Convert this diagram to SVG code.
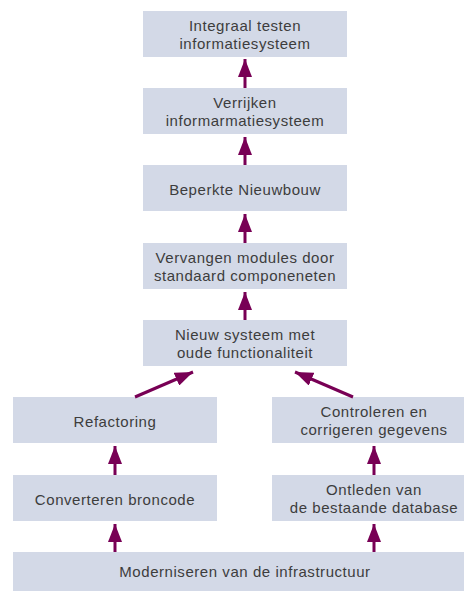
<svg xmlns="http://www.w3.org/2000/svg" width="465" height="591" viewBox="0 0 465 591">
<defs>
<style>
.box{fill:#d3d9e7}
.t{font-family:"Liberation Sans",Arial,sans-serif;font-size:15px;letter-spacing:0.55px;fill:#3d3d3d;text-anchor:middle}
.c{stroke:#780055;stroke-width:3;fill:none}
</style>
<marker id="ah" viewBox="0 0 18 14" refX="18" refY="7" markerWidth="18" markerHeight="14" markerUnits="userSpaceOnUse" orient="auto">
<path d="M0,0 L18,7 L0,14 Z" fill="#780055"/>
</marker>
</defs>
<rect width="465" height="591" fill="#ffffff"/>
<g id="n1"><rect class="box" x="143" y="11" width="204" height="46"/><text class="t" x="245" y="31">Integraal testen</text><text class="t" x="245" y="49">informatiesysteem</text></g>
<g id="n2"><rect class="box" x="143" y="88" width="204" height="46"/><text class="t" x="245" y="108">Verrijken</text><text class="t" x="245" y="126">informarmatiesysteem</text></g>
<g id="n3"><rect class="box" x="143" y="165" width="204" height="46"/><text class="t" x="245" y="195">Beperkte Nieuwbouw</text></g>
<g id="n4"><rect class="box" x="143" y="243" width="204" height="46"/><text class="t" x="245" y="263">Vervangen modules door</text><text class="t" x="245" y="281">standaard componeneten</text></g>
<g id="n5"><rect class="box" x="143" y="320" width="204" height="46"/><text class="t" x="245" y="340">Nieuw systeem met</text><text class="t" x="245" y="358">oude functionaliteit</text></g>
<g id="n6"><rect class="box" x="13" y="397" width="204" height="46"/><text class="t" x="115" y="427">Refactoring</text></g>
<g id="n7"><rect class="box" x="272" y="397" width="192" height="46"/><text class="t" x="374" y="417">Controleren en</text><text class="t" x="374" y="435">corrigeren gegevens</text></g>
<g id="n8"><rect class="box" x="13" y="475" width="204" height="46"/><text class="t" x="115" y="505">Converteren broncode</text></g>
<g id="n9"><rect class="box" x="272" y="475" width="192" height="46"/><text class="t" x="374" y="495">Ontleden van</text><text class="t" x="374" y="513">de bestaande database</text></g>
<g id="n10"><rect class="box" x="13" y="552" width="451" height="39"/><text class="t" x="245" y="577">Moderniseren van de infrastructuur</text></g>
<g id="connectors">
<line class="c" x1="245" y1="88" x2="245" y2="59" marker-end="url(#ah)"/>
<line class="c" x1="245" y1="165" x2="245" y2="137" marker-end="url(#ah)"/>
<line class="c" x1="245" y1="243" x2="245" y2="214" marker-end="url(#ah)"/>
<line class="c" x1="245" y1="320" x2="245" y2="292" marker-end="url(#ah)"/>
<line class="c" x1="135" y1="397" x2="193" y2="372" marker-end="url(#ah)"/>
<line class="c" x1="353" y1="397" x2="295" y2="372" marker-end="url(#ah)"/>
<line class="c" x1="115" y1="475" x2="115" y2="446" marker-end="url(#ah)"/>
<line class="c" x1="374" y1="475" x2="374" y2="446" marker-end="url(#ah)"/>
<line class="c" x1="115" y1="552" x2="115" y2="524" marker-end="url(#ah)"/>
<line class="c" x1="374" y1="552" x2="374" y2="524" marker-end="url(#ah)"/>
</g>
</svg>
